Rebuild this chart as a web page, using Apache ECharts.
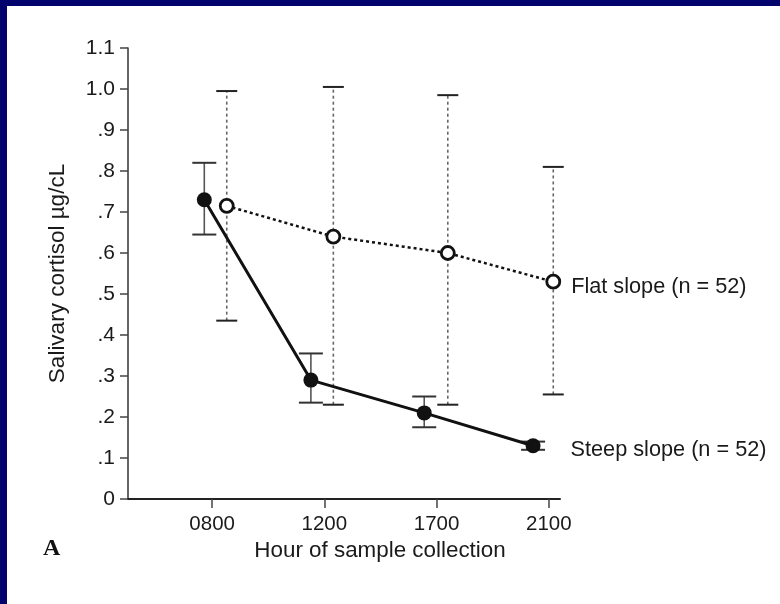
<!DOCTYPE html>
<html>
<head>
<meta charset="utf-8">
<script src="https://cdn.jsdelivr.net/npm/echarts@6/dist/echarts.min.js"></script>
<style>
html,body{margin:0;padding:0;width:780px;height:604px;background:#03036e;overflow:hidden;}
#panel{position:absolute;left:7px;top:6px;right:0;bottom:0;background:#fff;}
#chart{position:absolute;left:0;top:0;width:780px;height:604px;}
</style>
</head>
<body>
<div id="panel"></div>
<div id="chart"></div>
<script>
// x tick labels (hour of sample collection)
const hourLabels = ['0800', '1200', '1700', '2100'];
const hourTickPos = [1, 2, 3, 4];
// y tick labels
const yTickLabels = ['0', '.1', '.2', '.3', '.4', '.5', '.6', '.7', '.8', '.9', '1.0', '1.1'];

// Steep slope group (filled circles, solid line)
const steepX = [0.93, 1.88, 2.89, 3.86];
const steepMean = [0.73, 0.29, 0.21, 0.13];
const steepHigh = [0.82, 0.355, 0.25, 0.14];
const steepLow = [0.645, 0.235, 0.175, 0.12];
const steepName = 'Steep slope (n = 52)';

// Flat slope group (open circles, dotted line)
const flatX = [1.13, 2.08, 3.10, 4.04];
const flatMean = [0.715, 0.64, 0.60, 0.53];
const flatHigh = [0.995, 1.005, 0.985, 0.81];
const flatLow = [0.435, 0.23, 0.23, 0.255];
const flatName = 'Flat slope (n = 52)';

const FONT = 'Liberation Sans, Arial, sans-serif';
const TXT = '#1a1a1a';

function lineData(xs, ys, labelDist, dy) {
  return xs.map((x, i) => {
    const item = { value: [x, ys[i]] };
    if (i === xs.length - 1) {
      item.label = { show: true, position: 'right', distance: labelDist, offset: [0, dy] };
    }
    return item;
  });
}
function errData(xs, lo, hi) {
  return xs.map((x, i) => [x, lo[i], hi[i]]);
}
function errRender(capW, stemStyle, capStyle) {
  return function (params, api) {
    const x = api.value(0);
    const lo = api.coord([x, api.value(1)]);
    const hi = api.coord([x, api.value(2)]);
    const h = capW / 2;
    return {
      type: 'group',
      children: [
        { type: 'line', shape: { x1: lo[0], y1: lo[1], x2: hi[0], y2: hi[1] }, style: stemStyle },
        { type: 'line', shape: { x1: hi[0] - h, y1: hi[1], x2: hi[0] + h, y2: hi[1] }, style: capStyle },
        { type: 'line', shape: { x1: lo[0] - h, y1: lo[1], x2: lo[0] + h, y2: lo[1] }, style: capStyle }
      ]
    };
  };
}

const chart = echarts.init(document.getElementById('chart'), null, { renderer: 'canvas' });
chart.setOption({
  backgroundColor: 'transparent',
  animation: false,
  grid: { left: 128, top: 48, width: 432, height: 451 },
  xAxis: {
    type: 'value', min: 0.25, max: 4.1,
    name: 'Hour of sample collection', nameLocation: 'middle', nameGap: 37,
    nameTextStyle: { fontFamily: FONT, fontSize: 22.4, color: TXT, padding: [0, 0, 0, 72] },
    axisLine: { show: true, lineStyle: { color: '#222', width: 2 } },
    axisTick: { show: true, length: 9, customValues: hourTickPos, lineStyle: { color: '#444', width: 1.5 } },
    axisLabel: {
      customValues: hourTickPos, margin: 15,
      fontFamily: FONT, fontSize: 20.5, color: TXT,
      formatter: v => hourLabels[hourTickPos.indexOf(Math.round(v))] || ''
    },
    splitLine: { show: false }
  },
  yAxis: {
    type: 'value', min: 0, max: 1.1, interval: 0.1,
    name: 'Salivary cortisol µg/cL', nameLocation: 'middle', nameGap: 59, nameRotate: 90,
    nameTextStyle: { fontFamily: FONT, fontSize: 22.5, color: TXT },
    axisLine: { show: true, lineStyle: { color: '#333', width: 1.5 } },
    axisTick: { show: true, length: 8, lineStyle: { color: '#444', width: 1.5 } },
    axisLabel: {
      margin: 13, fontFamily: FONT, fontSize: 21, color: TXT,
      formatter: v => yTickLabels[Math.round(v * 10)]
    },
    splitLine: { show: false }
  },
  graphic: [
    { type: 'text', left: 43, top: 537, style: { text: 'A', font: 'bold 24px "Liberation Serif", serif', fill: '#111' } }
  ],
  series: [
    {
      type: 'custom', name: 'flatErr', z: 1,
      renderItem: errRender(21, { stroke: '#666', lineWidth: 1.6, lineDash: [3, 3] }, { stroke: '#222', lineWidth: 2 }),
      data: errData(flatX, flatLow, flatHigh)
    },
    {
      type: 'custom', name: 'steepErr', z: 1,
      renderItem: errRender(24, { stroke: '#555', lineWidth: 1.6 }, { stroke: '#333', lineWidth: 2 }),
      data: errData(steepX, steepLow, steepHigh)
    },
    {
      type: 'line', name: flatName, z: 3,
      data: lineData(flatX, flatMean, 10, 5),
      symbol: 'circle', symbolSize: 13,
      lineStyle: { color: '#111', width: 2.5, type: [3, 3] },
      itemStyle: { color: '#fff', borderColor: '#111', borderWidth: 2.8 },
      label: { show: false, formatter: flatName, fontFamily: FONT, fontSize: 21.7, color: TXT }
    },
    {
      type: 'line', name: steepName, z: 4,
      data: lineData(steepX, steepMean, 30, 4),
      symbol: 'circle', symbolSize: 15,
      lineStyle: { color: '#111', width: 3 },
      itemStyle: { color: '#111', borderColor: '#111', borderWidth: 0 },
      label: { show: false, formatter: steepName, fontFamily: FONT, fontSize: 21.7, color: TXT }
    }
  ]
});
</script>
</body>
</html>
